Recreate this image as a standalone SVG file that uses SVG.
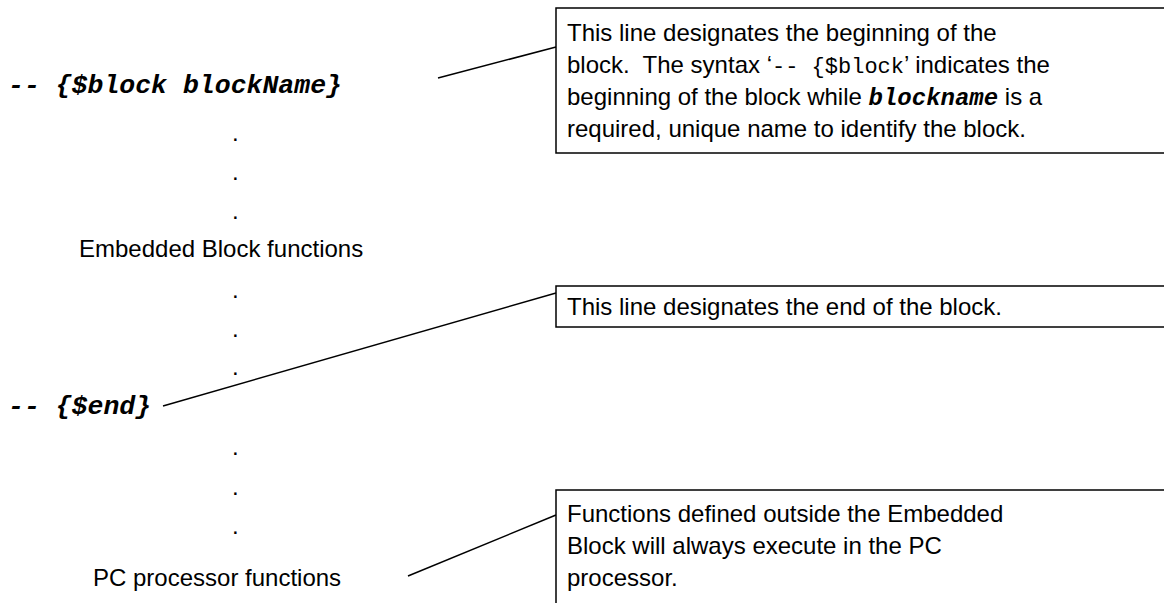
<svg xmlns="http://www.w3.org/2000/svg" width="1164" height="603" viewBox="0 0 1164 603">
<style>
.t{font-family:"Liberation Sans",Arial,sans-serif;font-size:24px;fill:#000}
.c{font-family:"Liberation Mono","Courier New",monospace;font-size:26.5px;font-weight:bold;font-style:italic;fill:#000}
.m{font-family:"Liberation Mono","Courier New",monospace;font-size:22px}
.mb{font-family:"Liberation Mono","Courier New",monospace;font-weight:bold;font-style:italic}
.box{fill:#fff;stroke:#000;stroke-width:1.5}
.ln{stroke:#000;stroke-width:1.5;fill:none}
</style>
<rect width="1164" height="603" fill="#fff"/>
<g id="code">
<text class="c" x="8" y="93">-- {$block blockName}</text>
<text class="t" x="232" y="141">.</text>
<text class="t" x="232" y="180">.</text>
<text class="t" x="232" y="219">.</text>
<text class="t" x="79" y="257">Embedded Block functions</text>
<text class="t" x="232" y="298">.</text>
<text class="t" x="232" y="337">.</text>
<text class="t" x="232" y="375">.</text>
<text class="c" x="8" y="414">-- {$end}</text>
<text class="t" x="232" y="455">.</text>
<text class="t" x="232" y="495">.</text>
<text class="t" x="232" y="534">.</text>
<text class="t" x="93" y="586">PC processor functions</text>
</g>
<g id="connectors">
<line class="ln" x1="438" y1="78" x2="556" y2="47"/>
<line class="ln" x1="163" y1="406" x2="556" y2="293"/>
<line class="ln" x1="408" y1="576" x2="556" y2="515"/>
</g>
<g id="note1">
<rect class="box" x="556" y="8" width="620" height="145"/>
<text class="t" x="567" y="41">This line designates the beginning of the</text>
<text class="t" x="567" y="73">block.&#160; The syntax ‘<tspan class="m">--&#160;{$block</tspan>’ indicates the</text>
<text class="t" x="567" y="105">beginning of the block while <tspan class="mb">blockname</tspan> is a</text>
<text class="t" x="567" y="137">required, unique name to identify the block.</text>
</g>
<g id="note2">
<rect class="box" x="556" y="286" width="620" height="41"/>
<text class="t" x="567" y="315">This line designates the end of the block.</text>
</g>
<g id="note3">
<rect class="box" x="556" y="490" width="620" height="130"/>
<text class="t" x="567" y="522">Functions defined outside the Embedded</text>
<text class="t" x="567" y="554">Block will always execute in the PC</text>
<text class="t" x="567" y="586">processor.</text>
</g>
</svg>
